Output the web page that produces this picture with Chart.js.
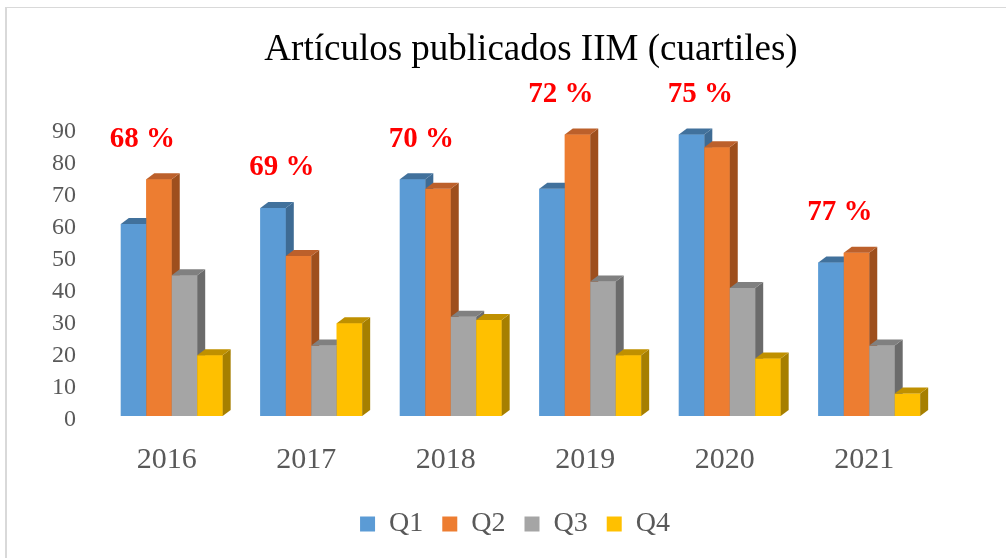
<!DOCTYPE html>
<html>
<head>
<meta charset="utf-8">
<script src="https://cdn.jsdelivr.net/npm/chart.js@4"></script>
<style>
  body { margin: 0; background: #fff; }
  #wrap { position: relative; width: 1006px; height: 558px; overflow: hidden; }
  #frame { position: absolute; left: 5px; top: 7px; right: -10px; bottom: -10px;
           border-left: 2px solid #d9d9d9; border-top: 1px solid #d9d9d9; pointer-events: none; }
</style>
</head>
<body>
<div id="wrap">
  <canvas id="chart" width="1006" height="558"></canvas>
  <div id="frame"></div>
</div>
<script>
const years = ['2016', '2017', '2018', '2019', '2020', '2021'];
const q1 = [60, 65, 74, 71, 88, 48];
const q2 = [74, 50, 71, 88, 84, 51];
const q3 = [44, 22, 31, 42, 40, 22];
const q4 = [19, 29, 30, 19, 18, 7];
const shareLabels = ['68 %', '69 %', '70 %', '72 %', '75 %', '77 %'];
const titleText = 'Artículos publicados IIM (cuartiles)';

// front / side / top face colours per series
const faces = [
  { front: '#5B9BD5', side: '#3E6B94', top: '#41719C' },
  { front: '#ED7D31', side: '#9E4F1D', top: '#BC602B' },
  { front: '#A5A5A5', side: '#6B6B6B', top: '#808080' },
  { front: '#FFC000', side: '#A67F00', top: '#BF9000' }
];
const depthX = 8, depthY = 6;
const serif = "'Liberation Serif', 'Times New Roman', serif";

const bars3d = {
  id: 'bars3d',
  afterDatasetsDraw(chart) {
    const ctx = chart.ctx;
    const metas = chart.data.datasets.map((d, i) => chart.getDatasetMeta(i));
    ctx.save();
    years.forEach((yr, i) => {
      metas.forEach((meta, di) => {
        const bar = meta.data[i];
        const c = faces[di];
        const l = bar.x - bar.width / 2, r = bar.x + bar.width / 2;
        const t = bar.y, b = bar.base;
        ctx.fillStyle = c.front;
        ctx.fillRect(l, t, r - l, b - t);
        ctx.fillStyle = c.side;
        ctx.beginPath();
        ctx.moveTo(r, t); ctx.lineTo(r + depthX, t - depthY);
        ctx.lineTo(r + depthX, b - depthY); ctx.lineTo(r, b);
        ctx.closePath(); ctx.fill();
        ctx.fillStyle = c.top;
        ctx.beginPath();
        ctx.moveTo(l, t); ctx.lineTo(r, t);
        ctx.lineTo(r + depthX, t - depthY); ctx.lineTo(l + depthX, t - depthY);
        ctx.closePath(); ctx.fill();
      });
      // share label above the group
      const first = metas[0].data[i];
      const topMost = Math.min(...metas.map(m => m.data[i].y));
      ctx.fillStyle = '#FF0000';
      ctx.font = 'bold 29px ' + serif;
      ctx.textAlign = 'center';
      ctx.textBaseline = 'middle';
      ctx.fillText(shareLabels[i], first.x + first.width / 2 - 4, topMost - 40);
    });
    // chart title
    ctx.fillStyle = '#000';
    ctx.font = '37px ' + serif;
    ctx.textAlign = 'center';
    ctx.textBaseline = 'middle';
    ctx.fillText(titleText, 531, 50);
    ctx.restore();
  }
};

const ctx = document.getElementById('chart').getContext('2d');
const chart = new Chart(ctx, {
  type: 'bar',
  data: {
    labels: years,
    datasets: [
      { label: 'Q1', data: q1, backgroundColor: faces[0].front, borderWidth: 0 },
      { label: 'Q2', data: q2, backgroundColor: faces[1].front, borderWidth: 0 },
      { label: 'Q3', data: q3, backgroundColor: faces[2].front, borderWidth: 0 },
      { label: 'Q4', data: q4, backgroundColor: faces[3].front, borderWidth: 0 }
    ]
  },
  options: {
    responsive: false,
    animation: false,
    events: [],
    datasets: { bar: { categoryPercentage: 0.73, barPercentage: 1.0 } },
    layout: { padding: { left: 24, right: 0, top: 128, bottom: 10 } },
    scales: {
      x: {
        grid: { display: false },
        border: { display: false },
        ticks: { color: '#595959', font: { family: serif, size: 30 }, padding: 18, labelOffset: -5 },
        afterFit: s => { s.height = 75; }
      },
      y: {
        min: 0,
        max: 90,
        grid: { display: false },
        border: { display: false },
        ticks: { stepSize: 10, color: '#595959', font: { family: serif, size: 24 }, padding: 18, labelOffset: 4 },
        afterFit: s => { s.width = 78; }
      },
      yRight: {
        position: 'right',
        grid: { display: false },
        border: { display: false },
        ticks: { display: false },
        afterFit: s => { s.width = 67; }
      }
    },
    plugins: {
      legend: {
        position: 'bottom',
        labels: {
          color: '#595959',
          font: { family: serif, size: 28, lineHeight: 1 },
          boxWidth: 15,
          boxHeight: 15,
          padding: 19
        }
      },
      tooltip: { enabled: false }
    }
  },
  plugins: [bars3d]
});
</script>
</body>
</html>
